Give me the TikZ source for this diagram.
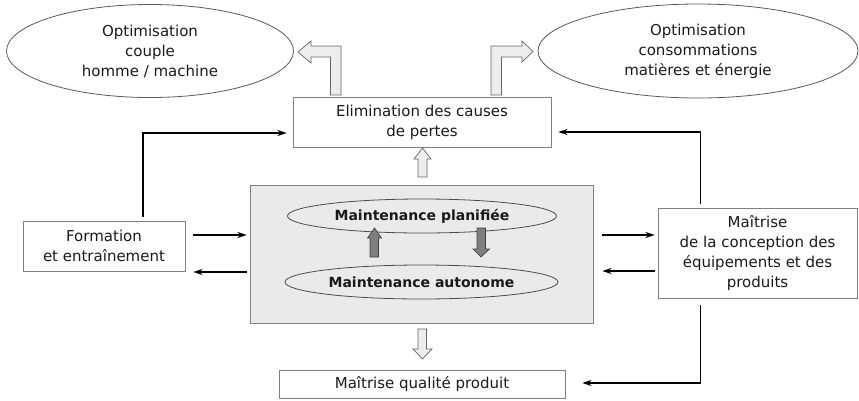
\documentclass[tikz,border=0pt]{standalone}
\usepackage{fontspec}
\setmainfont{DejaVu Sans}
\usetikzlibrary{shapes.geometric,arrows.meta,calc}
\definecolor{txt}{HTML}{1A1A1A}
\definecolor{bord}{HTML}{808080}
\definecolor{lgray}{HTML}{EAEAEA}
\definecolor{hollow}{HTML}{EDEDED}
\definecolor{dark}{HTML}{7F7F7F}
\begin{document}
\begin{tikzpicture}[x=1pt,y=-1pt,
  every node/.style={text=txt,font=\fontsize{15}{20}\selectfont,align=center,inner sep=0pt},
  oval/.style={ellipse,draw=black!65,line width=0.8pt},
  boxx/.style={rectangle,draw=bord,line width=0.9pt,fill=white},
  inoval/.style={ellipse,draw=black!70,line width=0.8pt,fill=lgray,font=\fontsize{14}{18}\bfseries\selectfont},
  arr/.style={-{Stealth[length=9pt,width=6pt]},line width=1.5pt,black},
  blockw/.style={draw=black!60,line width=0.7pt,fill=hollow},
  blockd/.style={draw=black!75,line width=0.7pt,fill=dark}]
\useasboundingbox (0,0) rectangle (859,400);
% nodes
\node[oval,minimum width=287,minimum height=93] (ell1) at (150,51) {Optimisation\\couple\\homme / machine};
\node[oval,minimum width=320,minimum height=94] (ell2) at (698,51) {Optimisation\\consommations\\matières et énergie};
\node[boxx,minimum width=258,minimum height=50] (elim) at (422,122) {Elimination des causes\\de pertes};
\node[rectangle,draw=bord,line width=0.9pt,fill=lgray,minimum width=343,minimum height=138] (central) at (421.5,254) {};
\node[inoval,minimum width=269,minimum height=34] (plan) at (422,216) {Maintenance planifiée};
\node[inoval,minimum width=273,minimum height=34] (auto) at (421.5,282) {Maintenance autonome};
\node[boxx,minimum width=162,minimum height=50] (form) at (104,246) {Formation\\et entraînement};
\node[boxx,minimum width=199,minimum height=90] (mait) at (757.5,253) {Maîtrise\\de la conception des\\équipements et des\\produits};
\node[boxx,minimum width=286,minimum height=28] (qual) at (422,384) {Maîtrise qualité produit};
% connectors
\draw[arr] ($(form.east)+(8,-11)$) -- ($(central.west |- form.east)+(-3,-11)$);
\draw[arr] ($(central.west |- form.east)+(-3,26)$) -- ($(form.east)+(8,26)$);
\draw[arr] ($(central.east |- mait.west)+(9,-18)$) -- ($(mait.west)+(-3,-18)$);
\draw[arr] ($(mait.west)+(-3,18)$) -- ($(central.east |- mait.west)+(9,18)$);
\draw[arr] ($(form.north)+(39,-4)$) |- ($(elim.west)+(-6,11)$);
\draw[arr] ($(mait.north)+(-57,-4)$) |- ($(elim.east)+(7,10)$);
\draw[arr] ($(mait.south)+(-57,7)$) |- ($(qual.east)+(17,-1)$);
% bent hollow arrows
\draw[blockw] (330.5,95) -- (330.5,57) -- (311,57) -- (311,63) -- (298,52) -- (311,41) -- (311,46) -- (341,46) -- (341,95) -- cycle;
\draw[blockw] (491,95) -- (491,46) -- (522,46) -- (522,41) -- (533,51.5) -- (522,62) -- (522,57) -- (501.5,57) -- (501.5,95) -- cycle;
% straight hollow arrows
\draw[blockw] (418,177) -- (418,159) -- (414,159) -- (422.5,148) -- (431,159) -- (427,159) -- (427,177) -- cycle;
\draw[blockw] (418,329) -- (418,349) -- (413,349) -- (422.5,359) -- (432,349) -- (426.5,349) -- (426.5,329) -- cycle;
% dark arrows
\draw[blockd] (370,257) -- (370,238) -- (367.5,238) -- (374.5,228) -- (381.5,238) -- (378.5,238) -- (378.5,257) -- cycle;
\draw[blockd] (477,228) -- (477,249) -- (473,249) -- (481,257) -- (489.5,249) -- (485.5,249) -- (485.5,228) -- cycle;
\end{tikzpicture}
\end{document}
